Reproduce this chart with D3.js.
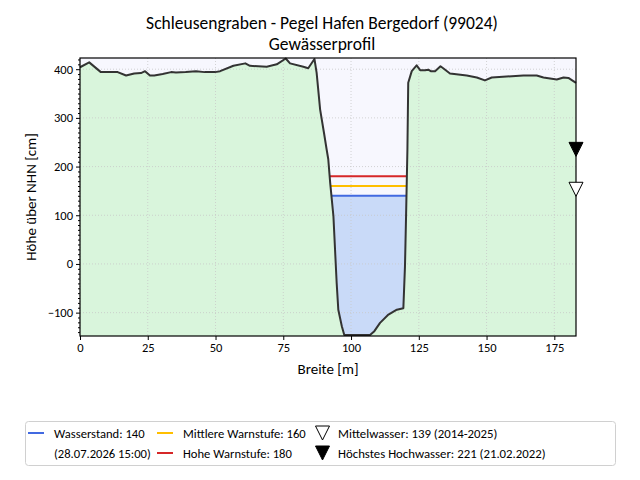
<!DOCTYPE html>
<html>
<head>
<meta charset="utf-8">
<script src="https://cdn.jsdelivr.net/npm/d3@7"></script>
<style>
  body { margin: 0; background: #fff; }
  text { font-family: Carlito, Lato, sans-serif; fill: #000; }
</style>
</head>
<body>
<div id="chart"></div>
<script>
// profile of the river bed, width in m / height in cm
var profileX = [0, 3.4, 7.7, 13.9, 17, 20, 22.5, 24, 25.8, 27.4, 30.5, 33.6, 35.4, 39, 42.8, 46, 49.8, 51.7, 56.6, 61, 62.7, 68.9, 72.6, 75.9, 77.5, 82.4, 84.2, 86.5,
  87.3, 88.6, 90, 91, 91.6, 92.3, 93.5, 94.1, 94.7, 95.3, 96.6, 97.5, 107, 108.6, 110.7, 113.8, 116.9, 119.3, 119.9, 120.3, 120.8, 121.1,
  122.4, 124.2, 125.5, 127.3, 128.5, 129.4, 131, 133, 134, 136.5, 139.6, 142.7, 146.4, 149.4, 151.9, 157.4, 163.6, 168.5, 171, 175.9, 178.4, 180.2, 183];
var profileY = [404, 414, 394, 394, 387, 391, 392, 396, 387, 387, 390, 394, 393, 394, 396, 394, 394, 396, 407, 412, 407, 405, 410, 422, 412, 405, 402, 421,
  393, 317, 270, 235, 215, 167, 98, 29, -39, -94, -128, -146, -146, -138, -121, -104, -94, -91, -5, 98, 235, 372,
  396, 408, 398, 398, 399, 396, 396, 406, 402, 391, 389, 387, 383, 377, 383, 385, 387, 387, 383, 379, 383, 382, 372];

var waterLevel = 140;
var levelNames = ["Wasserstand", "Mittlere Warnstufe", "Hohe Warnstufe"];
var levelValues = [140, 160, 180];
var levelColors = ["#4169e1", "#ffbf00", "#d62728"];
var markerNames = ["Mittelwasser: 139 (2014-2025)", "Höchstes Hochwasser: 221 (21.02.2022)"];
var markerValues = [139, 221];
var xTicks = [0, 25, 50, 75, 100, 125, 150, 175];
var yTicks = [-100, 0, 100, 200, 300, 400];

var W = 640, H = 480;
// careful: "top" is taken by window.top, so prefix these
var pL = 80, pR = 576, pT = 58, pB = 336;

var svg = d3.select("#chart").append("svg")
  .attr("width", W).attr("height", H);

var x = d3.scaleLinear().domain([0, 183]).range([pL, pR]);
var y = d3.scaleLinear().domain([-148, 423]).range([pB, pT]);

var pts = profileX.map(function(v, i) { return [v, profileY[i]]; });

// insert crossing points of the profile with a level
function withCrossings(level) {
  var out = [];
  for (var i = 0; i < pts.length; i++) {
    if (i > 0) {
      var a = pts[i - 1], b = pts[i];
      if ((a[1] - level) * (b[1] - level) < 0) {
        var t = (level - a[1]) / (b[1] - a[1]);
        out.push([a[0] + t * (b[0] - a[0]), level]);
      }
    }
    out.push(pts[i]);
  }
  return out;
}
function crossings(level) {
  var xs = [];
  for (var i = 1; i < pts.length; i++) {
    var a = pts[i - 1], b = pts[i];
    if ((a[1] - level) * (b[1] - level) < 0) {
      var t = (level - a[1]) / (b[1] - a[1]);
      xs.push(a[0] + t * (b[0] - a[0]));
    }
  }
  return xs;
}

// background sky
svg.append("rect")
  .attr("x", pL).attr("y", pT)
  .attr("width", pR - pL).attr("height", pB - pT)
  .attr("fill", "#f7f7fe");

// water
var wpts = withCrossings(waterLevel);
svg.append("path")
  .datum(wpts)
  .attr("fill", "#c9daf8")
  .attr("d", d3.area()
    .x(function(d) { return x(d[0]); })
    .y0(y(waterLevel))
    .y1(function(d) { return y(Math.min(d[1], waterLevel)); }));

// ground
svg.append("path")
  .datum(pts)
  .attr("fill", "#d9f5dc")
  .attr("d", d3.area()
    .x(function(d) { return x(d[0]); })
    .y0(pB)
    .y1(function(d) { return y(d[1]); }));

// grid
var grid = svg.append("g").attr("stroke", "#c8c8c8").attr("stroke-width", 0.8).attr("stroke-dasharray", "1,2");
xTicks.forEach(function(t) {
  grid.append("line").attr("x1", x(t)).attr("x2", x(t)).attr("y1", pT).attr("y2", pB);
});
yTicks.forEach(function(t) {
  grid.append("line").attr("x1", pL).attr("x2", pR).attr("y1", y(t)).attr("y2", y(t));
});

// level lines
levelValues.forEach(function(v, i) {
  var xs = crossings(v);
  svg.append("line")
    .attr("x1", x(xs[0])).attr("x2", x(xs[xs.length - 1]))
    .attr("y1", y(v)).attr("y2", y(v))
    .attr("stroke", levelColors[i]).attr("stroke-width", 2);
});

// profile line
svg.append("path")
  .datum(pts)
  .attr("fill", "none")
  .attr("stroke", "#333")
  .attr("stroke-width", 2)
  .attr("stroke-linejoin", "round")
  .attr("d", d3.line().x(function(d) { return x(d[0]); }).y(function(d) { return y(d[1]); }));

// frame
svg.append("rect")
  .attr("x", pL).attr("y", pT)
  .attr("width", pR - pL).attr("height", pB - pT)
  .attr("fill", "none").attr("stroke", "#000").attr("stroke-width", 1.2);

// axes
svg.append("g")
  .attr("transform", "translate(0," + pB + ")")
  .call(d3.axisBottom(x).tickValues(xTicks).tickSize(4).tickPadding(3));
svg.append("g")
  .attr("transform", "translate(" + pL + ",0)")
  .call(d3.axisLeft(y).tickValues(yTicks).tickSize(4).tickPadding(3)
    .tickFormat(function(d) { return d < 0 ? "\u2212" + Math.abs(d) : d; }));
svg.append("g")
  .attr("transform", "translate(" + pL + ",0)")
  .call(d3.axisLeft(y).tickValues(d3.range(-140, 421, 10).filter(function(v) { return v % 100 !== 0; }))
    .tickSize(2).tickFormat(""));
svg.selectAll(".domain").remove();
svg.selectAll(".tick text").style("font-size", "12.5px");
svg.selectAll(".tick line").attr("stroke", "#000");

// triangle markers on the right spine
var tri = 14;
markerValues.forEach(function(v, i) {
  var cx = pR, ty = y(v);
  svg.append("path")
    .attr("d", "M" + (cx - tri / 2) + "," + (ty - tri) + "L" + (cx + tri / 2) + "," + (ty - tri) + "L" + cx + "," + ty + "Z")
    .attr("fill", i === 1 ? "#000" : "#fff")
    .attr("stroke", "#000").attr("stroke-width", 1);
});

// titles
svg.append("text").attr("x", 322).attr("y", 29).attr("text-anchor", "middle")
  .style("font-size", "17.5px").text("Schleusengraben - Pegel Hafen Bergedorf (99024)");
svg.append("text").attr("x", 322).attr("y", 50).attr("text-anchor", "middle")
  .style("font-size", "17.5px").text("Gewässerprofil");
svg.append("text").attr("x", (pL + pR) / 2).attr("y", 374).attr("text-anchor", "middle")
  .style("font-size", "15px").text("Breite [m]");
svg.append("text").attr("transform", "translate(36," + ((pT + pB) / 2) + ") rotate(-90)")
  .attr("text-anchor", "middle").style("font-size", "15px").text("Höhe über NHN [cm]");

// legend
var lg = svg.append("g");
lg.append("rect").attr("x", 25.5).attr("y", 421.5).attr("width", 590).attr("height", 44)
  .attr("rx", 3).attr("fill", "#fff").attr("stroke", "#d0d0d0");
var rows = [433, 453];
var colX = [28, 157];
levelNames.forEach(function(n, i) {
  var cx = i === 0 ? colX[0] : colX[1];
  var ry = i === 0 ? rows[0] : rows[i - 1];
  lg.append("line").attr("x1", cx).attr("x2", cx + 16).attr("y1", ry).attr("y2", ry)
    .attr("stroke", levelColors[i]).attr("stroke-width", 2);
  lg.append("text").attr("x", cx + 26).attr("y", ry + 4.5).style("font-size", "12.6px")
    .text(n + ": " + levelValues[i]);
});
lg.append("text").attr("x", colX[0] + 26).attr("y", rows[1] + 4.5).style("font-size", "12.6px")
  .text("(28.07.2026 15:00)");
markerNames.forEach(function(n, i) {
  var cx = 322.5, ry = rows[i];
  lg.append("path")
    .attr("d", "M" + (cx - 7) + "," + (ry - 7) + "L" + (cx + 7) + "," + (ry - 7) + "L" + cx + "," + (ry + 7) + "Z")
    .attr("fill", i === 1 ? "#000" : "#fff").attr("stroke", "#000");
  lg.append("text").attr("x", 338).attr("y", ry + 4.5).style("font-size", "12.8px").text(n);
});
</script>
</body>
</html>
